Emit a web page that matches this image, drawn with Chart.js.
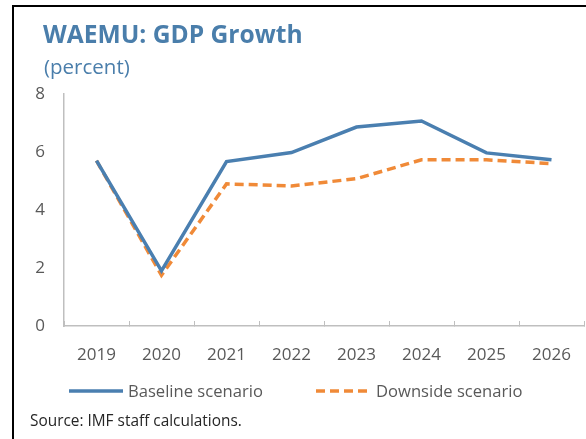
<!DOCTYPE html>
<html>
<head>
<meta charset="utf-8">
<script src="https://cdn.jsdelivr.net/npm/chart.js@4.4.1/dist/chart.umd.min.js"></script>
<style>
  html, body { margin:0; padding:0; background:#fff; }
  body { width:586px; height:439px; position:relative; overflow:hidden; font-family:"Open Sans", "Noto Sans", sans-serif; }
  #frame { position:absolute; left:12px; top:5px; width:600px; height:500px; border-left:2px solid #000; border-top:2px solid #000; }
  #wrap { position:absolute; left:0; top:0; width:586px; height:439px; }
  .title { position:absolute; left:43px; top:17px; font-size:24.6px; font-weight:bold; color:#4a7eab; white-space:nowrap; }
  .sub { position:absolute; left:44px; top:52px; font-size:20.5px; color:#4a7eab; white-space:nowrap; }
  .legend { position:absolute; top:379px; left:0; height:24px; font-size:16.6px; color:#595959; white-space:nowrap; }
  .legend svg { position:absolute; top:0; }
  .legend span { position:absolute; top:0; line-height:24px; }
  .source { position:absolute; left:30px; top:410px; font-size:15.4px; color:#262626; white-space:nowrap; }
</style>
</head>
<body>
<div id="wrap"><canvas id="c" width="586" height="439"></canvas></div>
<div id="frame"></div>
<div class="title">WAEMU: GDP Growth</div>
<div class="sub">(percent)</div>
<div class="legend">
  <svg style="left:69px" width="54" height="24"><line x1="0" y1="12" x2="54" y2="12" stroke="#4a7fb0" stroke-width="3.5"/></svg>
  <span style="left:128px">Baseline scenario</span>
  <svg style="left:316px" width="56" height="24"><line x1="0" y1="12" x2="56" y2="12" stroke="#f08a38" stroke-width="3.5" stroke-dasharray="9,5"/></svg>
  <span style="left:376px">Downside scenario</span>
</div>
<div class="source">Source: IMF staff calculations.</div>
<script>
const years = ["2019", "2020", "2021", "2022", "2023", "2024", "2025", "2026"];
const baseline = [5.7, 1.9, 5.67, 5.98, 6.86, 7.07, 5.97, 5.73];
const downside = [5.7, 1.75, 4.9, 4.83, 5.08, 5.73, 5.73, 5.6];
const yTicks = [0, 2, 4, 6, 8];

const fam = "'Open Sans', 'Noto Sans', sans-serif";
const axisGray = "#bfbfbf";

new Chart(document.getElementById("c"), {
  type: "line",
  data: {
    labels: years,
    datasets: [
      { label: "Baseline scenario", data: baseline, borderColor: "#4a7fb0", backgroundColor: "#4a7fb0",
        borderWidth: 3.5, pointRadius: 0, tension: 0, fill: false },
      { label: "Downside scenario", data: downside, borderColor: "#f08a38", backgroundColor: "#f08a38",
        borderWidth: 3.5, borderDash: [9, 5], pointRadius: 0, tension: 0, fill: false }
    ]
  },
  options: {
    responsive: false,
    animation: false,
    layout: { padding: { left: 0, top: 94, right: 2, bottom: 0 } },
    plugins: { legend: { display: false }, tooltip: { enabled: false }, title: { display: false } },
    scales: {
      x: {
        type: "category",
        offset: true,
        grid: { display: true, offset: true, drawOnChartArea: false, drawTicks: true, tickLength: -5, color: axisGray, lineWidth: 1 },
        border: { display: true, color: axisGray, width: 1.5 },
        ticks: { color: "#595959", font: { family: fam, size: 17, lineHeight: 2.5 }, padding: 13, maxRotation: 0, autoSkip: false },
        afterFit: (s) => { s.height = 113; }
      },
      y: {
        min: 0, max: 8,
        afterBuildTicks: (s) => { s.ticks = yTicks.map(v => ({ value: v })); },
        grid: { display: false, drawTicks: false },
        border: { display: true, color: axisGray, width: 1.5 },
        ticks: { color: "#595959", font: { family: fam, size: 17 }, padding: 19 },
        afterFit: (s) => { s.width = 64; }
      }
    }
  }
});
</script>
</body>
</html>
